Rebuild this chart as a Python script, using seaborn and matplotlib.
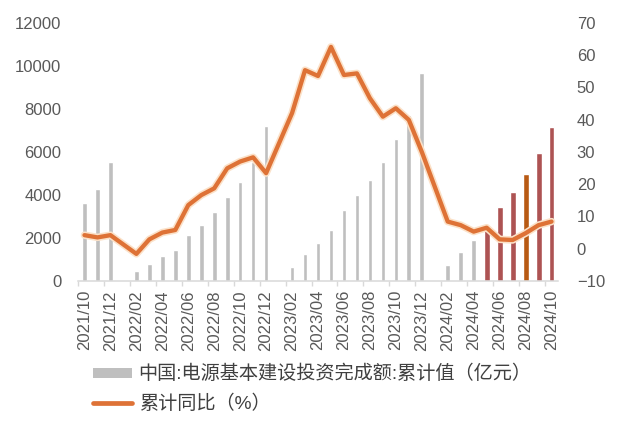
import numpy as np
import pandas as pd
import matplotlib
matplotlib.use("Agg")
import matplotlib.pyplot as plt
import matplotlib.patheffects as pe
from matplotlib.patches import Patch
from matplotlib.lines import Line2D
import seaborn as sns

sns.set_theme(style="white")
plt.rcParams["font.family"] = ["Liberation Sans", "Noto Sans CJK SC"]

months = [
    "2021/10", "2021/11", "2021/12",
    "2022/01", "2022/02", "2022/03", "2022/04", "2022/05", "2022/06",
    "2022/07", "2022/08", "2022/09", "2022/10", "2022/11", "2022/12",
    "2023/01", "2023/02", "2023/03", "2023/04", "2023/05", "2023/06",
    "2023/07", "2023/08", "2023/09", "2023/10", "2023/11", "2023/12",
    "2024/01", "2024/02", "2024/03", "2024/04", "2024/05", "2024/06",
    "2024/07", "2024/08", "2024/09", "2024/10",
]
invest = [
    3640, 4270, 5530,
    None, 480, 790, 1160, 1455, 2140,
    2600, 3210, 3900, 4600, 5515, 7200,
    None, 666, 1254, 1765, 2370, 3300,
    3996, 4693, 5530, 6600, 7712, 9680,
    None, 743, 1347, 1920, 2495, 3440,
    4150, 4985, 5947, 7170,
]
yoy = [
    4.2, 3.5, 4.2,
    None, -1.6, 2.9, 5.0, 5.8, 13.5,
    16.6, 18.7, 24.9, 27.0, 28.3, 23.4,
    None, 42.0, 55.3, 53.5, 62.5, 53.8,
    54.3, 46.6, 40.9, 43.5, 39.9, 30.0,
    None, 8.4, 7.3, 5.3, 6.5, 2.9,
    2.7, 4.8, 7.3, 8.4,
]
highlight = {"2024/05": "red", "2024/06": "red", "2024/07": "red",
             "2024/08": "orange", "2024/09": "red", "2024/10": "red"}

bar_label = "中国:电源基本建设投资完成额:累计值（亿元）"
line_label = "累计同比（%）"

GRAY = "#BFBFBF"
RED = "#AD5353"
ORANGE = "#B85A14"
LINE = "#DE7236"
TXT = "#595959"

df = pd.DataFrame({"month": months, "invest": invest, "yoy": yoy})
df["pos"] = np.arange(len(df))
df["group"] = [highlight.get(m, "gray") for m in months]
df["invest"] = pd.to_numeric(df["invest"])
df["yoy"] = pd.to_numeric(df["yoy"])

fig = plt.figure(figsize=(6.18, 4.29), dpi=100)
ax = fig.add_axes([78 / 618, 1 - 281 / 429, 480 / 618, (281 - 22.7) / 429])

gray_df = df[(df["group"] == "gray") & df["invest"].notna()]
hl_df = df[df["group"] != "gray"]
sns.barplot(data=gray_df, x="pos", y="invest", native_scale=True, color=GRAY,
            width=0.36, ax=ax, errorbar=None, saturation=1)
sns.barplot(data=hl_df, x="pos", y="invest", native_scale=True, hue="group",
            palette={"red": RED, "orange": ORANGE}, dodge=False, legend=False,
            width=0.46, ax=ax, errorbar=None, saturation=1)

ax.set_xlim(-0.5, len(months) - 0.5)
ax.set_ylim(0, 12000)
ax.set_yticks(np.arange(0, 12001, 2000))
ax.set_xticks(np.arange(0, len(months), 2))
ax.set_xticklabels(months[::2], rotation=90)
ax.set_xticks(np.arange(-0.5, len(months), 2), minor=True)
ax.set_xlabel("")
ax.set_ylabel("")
for s in ["top", "left", "right"]:
    ax.spines[s].set_visible(False)
ax.spines["bottom"].set_color("#D9D9D9")
ax.spines["bottom"].set_linewidth(1.1)
ax.tick_params(axis="x", which="major", length=0, pad=6.5, labelsize=12, labelcolor=TXT)
ax.tick_params(axis="x", which="minor", bottom=True, length=3.6, width=1, color="#D9D9D9", direction="out")
ax.tick_params(axis="y", length=0, pad=12, labelsize=12, labelcolor=TXT)

ax2 = ax.twinx()
line_df = df[df["yoy"].notna()]
sns.lineplot(data=line_df, x="pos", y="yoy", ax=ax2, color=LINE, linewidth=3.1,
             solid_joinstyle="round",
             path_effects=[pe.Stroke(linewidth=5.4, foreground="#FBE1C8"), pe.Normal()])
ax2.set_ylim(-10, 70)
ax2.set_yticks(np.arange(-10, 71, 10))
ax2.set_xlim(-0.5, len(months) - 0.5)
ax2.set_ylabel("")
ax2.set_xlabel("")
for s in ["top", "left", "right", "bottom"]:
    ax2.spines[s].set_visible(False)
ax2.tick_params(axis="y", length=0, pad=13.5, labelsize=12, labelcolor=TXT)
ax2.grid(False)
ax.grid(False)

handles = [Patch(facecolor=GRAY, edgecolor="none"),
           Line2D([0], [0], color=LINE, linewidth=3.4, solid_capstyle="round")]
fig.legend(handles, [bar_label, line_label], loc="upper left",
           bbox_to_anchor=(93 / 618, 1 - 365 / 429), frameon=False,
           fontsize=13.8, handlelength=2.05, handleheight=0.42, handletextpad=0.33,
           labelspacing=0.56, borderpad=0, borderaxespad=0, labelcolor="#404040")

fig.savefig("out.png", dpi=100)
